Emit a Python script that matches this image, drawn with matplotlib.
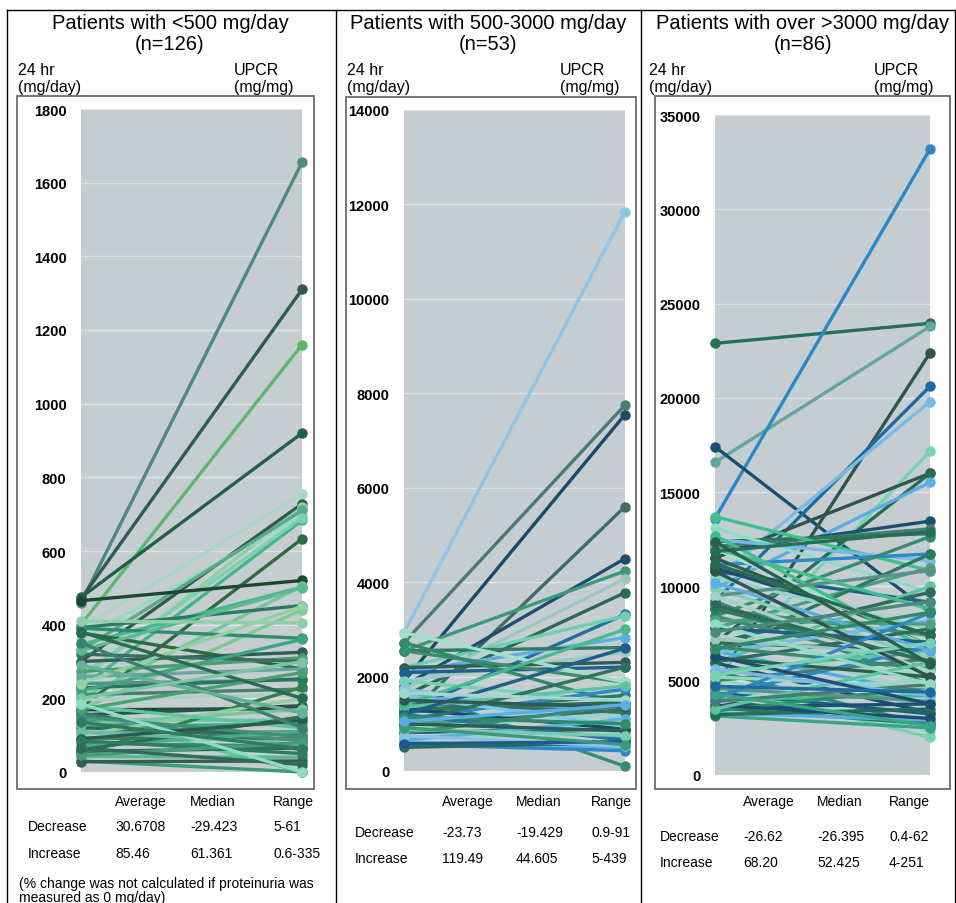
import matplotlib
matplotlib.use("Agg")
import matplotlib.pyplot as plt
from matplotlib.patches import Rectangle
from matplotlib.lines import Line2D

plt.rcParams['font.family'] = ['Liberation Sans', 'DejaVu Sans']

# ---------------- DATA ----------------
titles = ["Patients with <500 mg/day\n(n=126)",
          "Patients with 500-3000 mg/day\n(n=53)",
          "Patients with over >3000 mg/day\n(n=86)"]
left_label = "24 hr\n(mg/day)"
right_label = "UPCR\n(mg/mg)"

y_max = [1800, 14000, 35000]
y_ticks = [[0, 200, 400, 600, 800, 1000, 1200, 1400, 1600, 1800],
           [0, 2000, 4000, 6000, 8000, 10000, 12000, 14000],
           [0, 5000, 10000, 15000, 20000, 25000, 30000, 35000]]

table_header = ["Average", "Median", "Range"]
table_rows = ["Decrease", "Increase"]
table_vals = [[["30.6708", "-29.423", "5-61"], ["85.46", "61.361", "0.6-335"]],
              [["-23.73", "-19.429", "0.9-91"], ["119.49", "44.605", "5-439"]],
              [["-26.62", "-26.395", "0.4-62"], ["68.20", "52.425", "4-251"]]]
footnote = "(% change was not calculated if proteinuria was\nmeasured as 0 mg/day)"

# Panel 1: 24 hr (mg/day) -> UPCR (mg/mg)
p1_start = [460, 470, 400, 474, 390, 300, 250, 360, 228, 330, 175, 262, 465, 346, 200,
            392, 170, 390, 378, 266, 155, 30, 300, 273, 320, 259, 240, 228, 210, 196,
            169, 155, 142, 124, 106, 92, 78, 56, 42, 28, 50, 160, 140, 120, 130,
            100, 70, 60, 180, 150, 110, 90, 170, 220, 330, 410, 240, 380, 350, 290,
            200, 85, 45, 65, 185, 135]
p1_end = [1655, 1310, 1160, 920, 755, 728, 719, 697, 683, 710, 633, 690, 520, 502, 505,
          452, 440, 363, 280, 0, 0, 0, 325, 310, 300, 280, 250, 253, 225, 210,
          172, 180, 140, 130, 110, 90, 70, 65, 40, 30, 230, 60, 85, 100, 170,
          200, 110, 150, 120, 95, 75, 140, 270, 360, 500, 405, 450, 200, 120, 160,
          300, 50, 80, 20, 0, 63]

# Panel 2
p2_start = [2930, 2720, 1900, 1100, 1800, 2545, 1734, 1593, 1240, 2192, 2086, 2545, 1910,
            2192, 2086, 2545, 2930, 2720, 1734, 1910, 1593, 1734, 1311, 1240, 1099, 958,
            817, 676, 600, 560, 500, 700, 1311, 1099, 900, 1450, 1593, 1200, 800, 650,
            1000, 1350, 1000, 1200, 1400, 750, 580, 880, 1150, 1500, 1650, 920, 1050]
p2_end = [11850, 7750, 7550, 5600, 4500, 4236, 4074, 3778, 3320, 3285, 2827, 2615, 2510,
          2300, 2200, 1875, 1875, 1400, 100, 1450, 1240, 1099, 1450, 1600, 1734, 1300,
          888, 782, 500, 430, 600, 1000, 888, 700, 1200, 1240, 950, 650, 1400, 1100,
          850, 1800, 2200, 2600, 3000, 520, 620, 750, 1000, 1350, 1500, 560, 1400]

# Panel 3
p3_start = [22890, 16580, 13600, 17410, 4800, 9200, 10400, 5200, 11500, 7000, 9900, 11860,
            12120, 12380, 13700, 13090, 12500, 11150, 10800, 11500, 11000, 8420, 9210, 7800,
            6570, 7450, 5950, 7010, 10500, 12000, 12700, 9920, 8800, 9500, 8420, 7450,
            6570, 7010, 5950, 5510, 5160, 4800, 4360, 3920, 3570, 3130, 3300, 3600,
            4000, 4500, 5000, 5500, 6000, 6500, 4200, 3800, 3400, 3200, 3700, 4600,
            5200, 6200, 6800, 7200, 7800, 8200, 8800, 9500, 10200, 10800, 11200, 12000,
            11860, 4000, 3500, 3900, 4300, 5600, 6300, 8000, 9000, 4700, 5300, 6700,
            7600, 12380]
p3_end = [23950, 23790, 33200, 8630, 22380, 20610, 19800, 17170, 16000, 16000, 15520, 13460,
          13050, 12800, 10840, 9700, 11370, 11720, 9160, 7040, 7400, 12640, 4800, 11000,
          11720, 4300, 10000, 9690, 7750, 7040, 6600, 6160, 7400, 10840, 5630, 5190,
          4300, 6600, 3300, 2620, 2300, 2000, 3240, 2800, 2700, 2500, 2900, 3770,
          4210, 5000, 6160, 6600, 7750, 8200, 6800, 5800, 4660, 3500, 3000, 3900,
          4660, 5200, 5630, 6300, 7040, 8000, 6000, 5500, 6600, 5200, 7400, 8800,
          12900, 8600, 6000, 4800, 2600, 4210, 3770, 4800, 6000, 4400, 7000, 8630,
          9200, 5900]

# ---------------- STYLE ----------------
green_pal = ['#4d8a80', '#2f5a50', '#5bb86a', '#23604a', '#a9d6c9', '#2b5e48', '#8ed39e',
             '#93dcc2', '#3fb78c', '#5aa88a', '#2e6b40', '#7ccfb0', '#1e4530', '#46b590',
             '#74c69d', '#2a7a60', '#7fc98f', '#2e8b6e', '#2d6a3e', '#a2e2cb', '#63c7a0',
             '#3a9b78', '#2e5d55', '#4d9b6e', '#3a6e62', '#6aa59d', '#5c8f88', '#2a7560',
             '#48806f', '#a8d0c0', '#1f4a35', '#2a5247', '#5ec9a5', '#3aa785', '#6a9e95',
             '#3c7d6a', '#2f9072', '#2b6f52', '#5cb88a', '#335e50', '#35804a', '#3b7569',
             '#4b8f80', '#2f6b5a', '#7cc49a', '#8fcf9c', '#4aab86', '#2f6e4c', '#5bc4a0',
             '#3f8f79', '#6ab8a5', '#2d5a4c', '#4aa070', '#3ca582', '#5eb890', '#8fcfa8',
             '#8fd4a0', '#2a6b50', '#3b8070', '#63b099', '#7ac4a8', '#2d7a66', '#4a9b7a',
             '#2f6a5c', '#8edcc4', '#2f7a62']
p2_pal = ['#8ec4ea', '#4a7a72', '#1a4a6c', '#3f6c64', '#1d4d70', '#3a9a78', '#9cc6c0',
          '#2a6a52', '#1f6fa0', '#6ad0ad', '#5aaee4', '#2f7a62', '#9ccac0', '#2f5c54',
          '#1e5f90', '#3c8c6e', '#9ee0c8', '#2e8a6a', '#2f8f6f', '#76d2b5', '#5aaee4',
          '#8dc4ea', '#2f6a5c', '#2a7a60', '#2e88c8', '#3a7060', '#1e4d6e', '#a0d4c8',
          '#5aaee4', '#2e88c8', '#2a6a5c', '#8dd8c0', '#1a4a6c', '#4aa080', '#9cd4c6',
          '#3d6e66', '#76c8e8', '#2a70a8', '#3a8a70', '#5ab0e0', '#2d5c54', '#5cc4a0',
          '#2f7060', '#1f5f8a', '#4ab890', '#8bc0e8', '#1c5a88', '#76cdb5', '#2f8a68',
          '#2e5a52', '#a2d8cc', '#3a9a78', '#5aaee4']
p3_pal = ['#236e55', '#62a69c', '#2c87c8', '#1b4f72', '#2f544c', '#1e6aa0', '#7ab8e6',
          '#78d2b0', '#2f544c', '#2a6a50', '#5aaee4', '#1b4f72', '#4a7a72', '#2a7a58',
          '#3fbf90', '#8edcc4', '#7ab8e6', '#2e88c8', '#1f5f8a', '#2a6048', '#1b4f72',
          '#3a8a70', '#2f8a68', '#4aa080', '#2a7a60', '#a0d4c8', '#5cc4a0', '#2f6a5c',
          '#8dd8c0', '#9ee0c8', '#3fbf90', '#7bd0b5', '#4a8a7a', '#5a9088', '#3a8a70',
          '#a8d8cc', '#4aaee0', '#2a6a50', '#1b4f72', '#2f8a68', '#8edcc4', '#76d2b5',
          '#1e5f8a', '#2f544c', '#2a7a58', '#3aa585', '#5aaee4', '#1b4f72', '#3fbf90',
          '#a0d4c8', '#4a7a72', '#5cc4a0', '#2f6a5c', '#7ab8e6', '#2e88c8', '#a8d8cc',
          '#2f8a68', '#236e55', '#1b4f72', '#5a9088', '#8dd8c0', '#2a6048', '#3a8a70',
          '#9cc6c0', '#1e5f8a', '#4aa080', '#2a7a60', '#a0d4c8', '#5aaee4', '#2f544c',
          '#2a6a50', '#3fbf90', '#236e55', '#2e88c8', '#5cc4a0', '#4a7a72', '#3aa585',
          '#7ab8e6', '#1b4f72', '#8edcc4', '#2f6a5c', '#1e6aa0', '#76d2b5', '#2f8a68',
          '#4a8a7a', '#2a6048']

W, H = 956, 904
def fx(x): return x / W
def fy(y): return 1 - y / H

fig = plt.figure(figsize=(W / 100, H / 100), dpi=100)

# axes placement in pixels (left, top, right, bottom)
ax_px = [(81, 110, 302, 773), (404, 111, 625, 772), (715, 116, 930, 776)]
frame_px = [(17, 97, 314, 790), (346, 98, 636, 790), (655, 97, 950, 790)]
title_cx = [170, 488, 803]
lab_left_x = [18, 347, 649]
lab_right_x = [234, 560, 874]
col_x = [[115, 190, 273], [442, 516, 591], [743, 817, 889]]
row_label_x = [28, 355, 660]
header_y = [802, 802, 802]
row_y = [[827, 854], [833, 859], [837, 863]]

data = [(p1_start, p1_end, green_pal), (p2_start, p2_end, p2_pal), (p3_start, p3_end, p3_pal)]

for i in range(3):
    l, t, r, b = ax_px[i]
    ax = fig.add_axes([fx(l), fy(b), (r - l) / W, (b - t) / H])
    ax.set_facecolor('#c6cdd1')
    ax.set_xlim(0, 1)
    ax.set_ylim(0, y_max[i])
    ax.set_xticks([])
    ax.set_yticks(y_ticks[i])
    ax.set_yticklabels([str(v) for v in y_ticks[i]], fontweight='bold', fontsize=10.5)
    ax.tick_params(axis='y', length=0, pad=10.5)
    for s in ax.spines.values():
        s.set_visible(False)
    ax.grid(axis='y', color='#dfe3e5', linewidth=1)
    ax.set_axisbelow(True)
    starts, ends, pal = data[i]
    for k, (s0, e0) in enumerate(zip(starts, ends)):
        c = pal[k % len(pal)]
        ax.plot([0, 1], [s0, e0], color=c, linewidth=2.4, marker='o', markersize=6.5,
                clip_on=False, solid_capstyle='round', zorder=3)

    # frame around the plot
    fl, ft, fr, fb = frame_px[i]
    fig.patches.append(Rectangle((fx(fl), fy(fb)), (fr - fl) / W, (fb - ft) / H,
                                 transform=fig.transFigure, fill=False,
                                 edgecolor='#6b6b6b', linewidth=1.3))
    # titles and labels
    fig.text(fx(title_cx[i]), fy(34), titles[i], ha='center', va='center',
             fontsize=14.5, linespacing=1.12)
    fig.text(fx(lab_left_x[i]), fy(79), left_label, ha='left', va='center',
             fontsize=11.5, linespacing=1.2)
    fig.text(fx(lab_right_x[i]), fy(79), right_label, ha='left', va='center',
             fontsize=11.5, linespacing=1.2)
    # table
    for j, h in enumerate(table_header):
        fig.text(fx(col_x[i][j]), fy(header_y[i]), h, ha='left', va='center', fontsize=10)
    for rr, rname in enumerate(table_rows):
        fig.text(fx(row_label_x[i]), fy(row_y[i][rr]), rname, ha='left', va='center', fontsize=10)
        for j in range(3):
            fig.text(fx(col_x[i][j]), fy(row_y[i][rr]), table_vals[i][rr][j],
                     ha='left', va='center', fontsize=10)

fig.text(fx(19), fy(891), footnote, ha='left', va='center', fontsize=10, linespacing=1.0)

# outer cell borders
for xv in [7, 336, 641, 955]:
    fig.add_artist(Line2D([fx(xv), fx(xv)], [fy(11), 0], transform=fig.transFigure,
                          color='black', linewidth=1.0))
fig.add_artist(Line2D([fx(7), fx(955)], [fy(11), fy(11)], transform=fig.transFigure,
                      color='black', linewidth=1.0))

fig.savefig('out.png', dpi=100)
